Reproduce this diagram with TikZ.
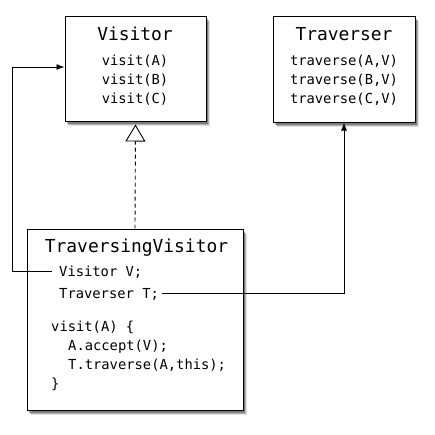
\documentclass[tikz,border=0pt]{standalone}
\usepackage{fontspec}
\newfontfamily\codefont{DejaVu Sans Mono}
\usetikzlibrary{arrows.meta,shadows}
\begin{document}
\begin{tikzpicture}[x=1pt,y=-1pt,
  classbox/.style={draw=black,line width=1pt,fill=white,rectangle,inner sep=0pt,
    drop shadow={shadow xshift=3.5pt,shadow yshift=-5pt,opacity=0.12,fill=black},
    drop shadow={shadow xshift=2.5pt,shadow yshift=-4pt,opacity=0.2,fill=black},
    drop shadow={shadow xshift=1.5pt,shadow yshift=-3pt,opacity=0.3,fill=black}},
  titletext/.style={inner sep=0pt,font=\codefont\fontsize{17.9}{20}\selectfont},
  codetext/.style={inner sep=0pt,font=\codefont\fontsize{13.8}{19}\selectfont},
  conn/.style={line width=0.9pt,-{Latex[length=8pt,width=6pt]}},
  realize/.style={line width=0.9pt,dash pattern=on 4pt off 3pt,
    -{Triangle[open,length=17pt,width=20pt,line width=0.9pt]},shorten >=3pt}
]
\useasboundingbox (0,0) rectangle (435,434);

% boxes
\node[classbox,minimum width=141pt,minimum height=105pt] (vis) at (135.5,68.5) {};
\node[classbox,minimum width=142pt,minimum height=106pt] (trav) at (344,69) {};
\node[classbox,minimum width=216pt,minimum height=181pt] (tv) at (135,319.5) {};

% Visitor texts
\node[titletext,anchor=base] (visT) at (135,40) {Visitor};
\node[codetext,anchor=base] (visA) at (135,65) {visit(A)};
\node[codetext,anchor=base] (visB) at (135,84) {visit(B)};
\node[codetext,anchor=base] (visC) at (135,103) {visit(C)};

% Traverser texts
\node[titletext,anchor=base] (travT) at (344,40) {Traverser};
\node[codetext,anchor=base] (travA) at (344,65) {traverse(A,V)};
\node[codetext,anchor=base] (travB) at (344,84) {traverse(B,V)};
\node[codetext,anchor=base] (travC) at (344,103) {traverse(C,V)};

% TraversingVisitor texts
\node[titletext,anchor=base] (tvT) at (136.5,252) {TraversingVisitor};
\node[codetext,anchor=base west] (vV) at (59,276) {Visitor V;};
\node[codetext,anchor=base west] (vT) at (59,298) {Traverser T;};
\node[codetext,anchor=base west] (l1) at (51,331) {visit(A) \{};
\node[codetext,anchor=base west] (l2) at (68,350) {A.accept(V);};
\node[codetext,anchor=base west] (l3) at (68,369) {T.traverse(A,this);};
\node[codetext,anchor=base west] (l4) at (51,388) {\}};

% connectors
\draw[conn] ([xshift=-7pt]vV.west) -- ++(-40,0) |- ([yshift=1.5pt]vis.west);
\draw[conn] ([xshift=3pt]vT.east) -| (trav.south);
\draw[realize] (tv.north) -- (vis.south);
\end{tikzpicture}
\end{document}
